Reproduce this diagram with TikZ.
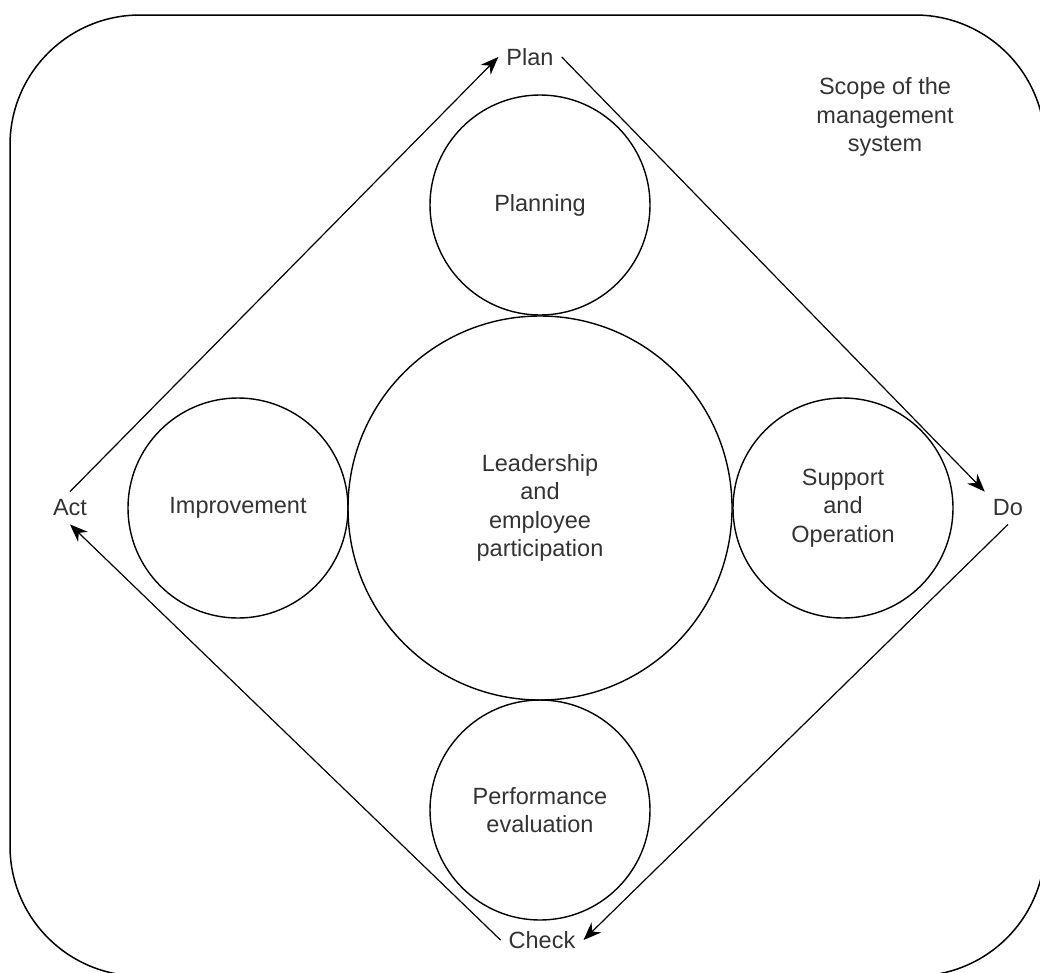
\documentclass[tikz,border=0pt]{standalone}
\usepackage{fontspec}
\setmainfont{Liberation Sans}
\usetikzlibrary{arrows.meta}
\begin{document}
\begin{tikzpicture}[x=1pt, y=-1pt, >={Stealth[length=18pt, width=14pt]},
    every node/.style={text=black!80, font=\fontsize{23.5}{28.5}\selectfont, align=center},
    area/.style={circle, draw, line width=1.4pt, inner sep=0pt},
    phase/.style={inner sep=8pt},
    cycle/.style={->, line width=1.2pt}]

            \useasboundingbox (0,0) rectangle (1040,972);
            \clip (0,0) rectangle (1040,972);

            % Scope
            \draw[line width=1.5pt, rounded corners=130pt] (10,15) rectangle (1045,976);
            \node (scope) at (885,117) {Scope of the\\management\\system};

            % Circles
            \node[area, minimum size=384pt] (lead) at (540,508) {Leadership\\and\\employee\\participation};
            \node[area, minimum size=220pt] (plng) at (540,205) {Planning};
            \node[area, minimum size=220pt] (supp) at (843,508) {Support\\and\\Operation};
            \node[area, minimum size=220pt] (perf) at (540,810) {Performance\\evaluation};
            \node[area, minimum size=220pt] (impr) at (238,508) {Improvement};

            % PDCA labels
            \node[phase] (plan) at (530,57) {Plan};
            \node[phase] (do) at (1008,508) {Do};
            \node[phase] (check) at (542,940) {Check};
            \node[phase] (act) at (70,508) {Act};

            % Cycle
            \draw[cycle] (plan.east) -- (do.north west);
            \draw[cycle] (do.south) -- (check.east);
            \draw[cycle] (check.west) -- (act.south);
            \draw[cycle] (act.north) -- (plan.west);

        \end{tikzpicture}
\end{document}
